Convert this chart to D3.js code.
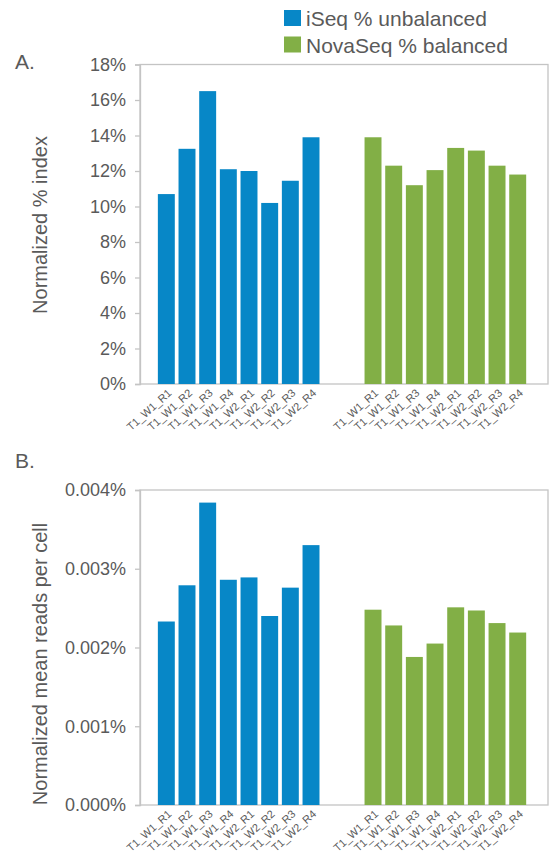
<!DOCTYPE html>
<html>
<head>
<meta charset="utf-8">
<script src="https://cdn.jsdelivr.net/npm/d3@7"></script>
<style>
  html, body { margin: 0; padding: 0; background: #fff; }
  svg { display: block; font-family: "Liberation Sans", Arial, Helvetica, sans-serif; }
</style>
</head>
<body>
<svg id="chart" width="549" height="854"></svg>
<script>
// Sample labels shared by both groups
const categories = ["T1_W1_R1", "T1_W1_R2", "T1_W1_R3", "T1_W1_R4",
                    "T1_W2_R1", "T1_W2_R2", "T1_W2_R3", "T1_W2_R4"];

// Panel A: normalized % index
const iseqIndex = [10.7, 13.25, 16.5, 12.1, 12.0, 10.2, 11.45, 13.9];
const novaIndex = [13.9, 12.3, 11.2, 12.05, 13.3, 13.15, 12.3, 11.8];
const indexTicks = [0, 2, 4, 6, 8, 10, 12, 14, 16, 18];

// Panel B: normalized mean reads per cell (%)
const iseqReads = [0.00233, 0.00279, 0.00384, 0.00286, 0.00289, 0.00240, 0.00276, 0.00330];
const novaReads = [0.00248, 0.00228, 0.00188, 0.00205, 0.00251, 0.00247, 0.00231, 0.00219];
const readsTicks = [0, 0.001, 0.002, 0.003, 0.004];

const seriesNames = ["iSeq % unbalanced", "NovaSeq % balanced"];
const seriesColors = ["#0787c7", "#82af46"];

const svg = d3.select("#chart");
const textColor = "#5a5a5a";
const frameColor = "#c4c4c4";

// Bar slots: 8 iSeq, 2 empty spacers, 8 NovaSeq
const slotKeys = [
  ...categories.map(c => "a|" + c),
  "gap1", "gap2",
  ...categories.map(c => "b|" + c)
];

function barRows(valsA, valsB) {
  return [
    ...categories.map((c, i) => ({ key: "a|" + c, label: c, value: valsA[i], s: 0 })),
    ...categories.map((c, i) => ({ key: "b|" + c, label: c, value: valsB[i], s: 1 }))
  ];
}

function panel(cfg) {
  const { top, bottom, left, right, domainMax, ticks, fmt, rows, title, titleY, letter, letterY } = cfg;
  const g = svg.append("g");

  const x = d3.scaleBand().domain(slotKeys).range([left, right])
    .paddingInner(0.18).paddingOuter(0.96).align(0.45);
  const y = d3.scaleLinear().domain([0, domainMax]).range([bottom, top]);

  // plot frame
  g.append("rect")
    .attr("x", left).attr("y", top)
    .attr("width", right - left).attr("height", bottom - top)
    .attr("fill", "none").attr("stroke", frameColor).attr("stroke-width", 1.3);

  // bars
  g.selectAll("rect.bar").data(rows).join("rect")
    .attr("class", "bar")
    .attr("x", d => x(d.key))
    .attr("width", x.bandwidth())
    .attr("y", d => y(d.value))
    .attr("height", d => y(0) - y(d.value))
    .attr("fill", d => seriesColors[d.s]);

  // y axis
  const yAxis = d3.axisLeft(y).tickValues(ticks).tickFormat(fmt)
    .tickSize(5).tickPadding(9);
  const ya = g.append("g").attr("transform", `translate(${left},0)`).call(yAxis);
  ya.select(".domain").attr("stroke", frameColor).attr("stroke-width", 1.3);
  ya.selectAll(".tick line").attr("stroke", frameColor).attr("stroke-width", 1.3);
  ya.selectAll(".tick text")
    .attr("fill", textColor)
    .attr("font-size", 18)
    .attr("font-family", "Liberation Sans, Arial, sans-serif");

  // category labels, rotated
  g.selectAll("text.cat").data(rows).join("text")
    .attr("class", "cat")
    .attr("transform", d => `translate(${x(d.key) + x.bandwidth() / 2 + 6},${bottom + 10}) rotate(-42)`)
    .attr("text-anchor", "end")
    .attr("font-size", 11)
    .attr("fill", textColor)
    .text(d => d.label);

  // axis title
  g.append("text")
    .attr("transform", `translate(47,${titleY}) rotate(-90)`)
    .attr("text-anchor", "middle")
    .attr("font-size", 20)
    .attr("fill", textColor)
    .text(title);

  // panel letter
  g.append("text")
    .attr("x", 15).attr("y", letterY)
    .attr("font-size", 21)
    .attr("fill", textColor)
    .text(letter);
}

panel({
  top: 64.5, bottom: 384, left: 140, right: 548,
  domainMax: 18, ticks: indexTicks, fmt: d => d + "%",
  rows: barRows(iseqIndex, novaIndex),
  title: "Normalized % index", titleY: 225,
  letter: "A.", letterY: 69
});

panel({
  top: 490, bottom: 805, left: 140, right: 548,
  domainMax: 0.004, ticks: readsTicks, fmt: d => d3.format(".3f")(d) + "%",
  rows: barRows(iseqReads, novaReads),
  title: "Normalized mean reads per cell", titleY: 664,
  letter: "B.", letterY: 468
});

// legend
const legend = svg.append("g");
seriesNames.forEach((name, i) => {
  const ly = 10 + i * 26.5;
  legend.append("rect")
    .attr("x", 284).attr("y", ly)
    .attr("width", 17).attr("height", 16)
    .attr("fill", seriesColors[i]);
  legend.append("text")
    .attr("x", 306).attr("y", ly + 16)
    .attr("font-size", 21)
    .attr("fill", textColor)
    .text(name);
});
</script>
</body>
</html>
